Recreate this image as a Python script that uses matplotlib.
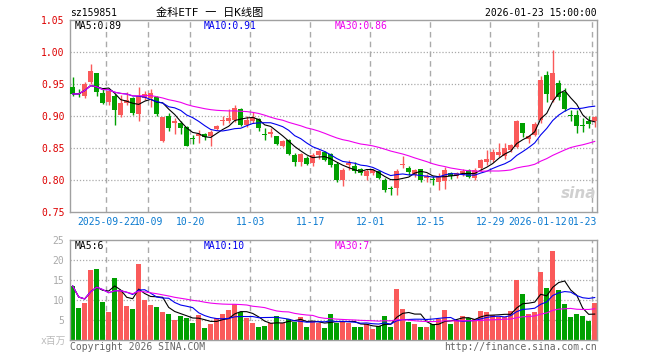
import matplotlib
matplotlib.use("Agg")
import matplotlib.pyplot as plt
import numpy as np
import pandas as pd
from matplotlib.transforms import blended_transform_factory

plt.rcParams['font.family'] = ['DejaVu Sans Mono', 'Noto Sans CJK SC']

# ---------------- data ----------------
opens = [0.946, 0.936, 0.932, 0.953, 0.968, 0.937, 0.923, 0.931, 0.902, 0.920,
         0.928, 0.904, 0.928, 0.929, 0.930, 0.861, 0.900, 0.889, 0.889, 0.883,
         0.865, 0.870, 0.872, 0.870, 0.880, 0.893, 0.892, 0.894, 0.911, 0.887,
         0.892, 0.896, 0.872, 0.872, 0.869, 0.854, 0.863, 0.840, 0.829, 0.835,
         0.827, 0.840, 0.845, 0.841, 0.826, 0.801, 0.824, 0.822, 0.817, 0.807,
         0.812, 0.814, 0.801, 0.787, 0.788, 0.824, 0.820, 0.808, 0.817, 0.803,
         0.801, 0.798, 0.799, 0.811, 0.807, 0.808, 0.816, 0.803, 0.820, 0.829,
         0.832, 0.840, 0.838, 0.848, 0.852, 0.889, 0.864, 0.871, 0.894, 0.964,
         0.925, 0.952, 0.938, 0.901, 0.902, 0.886, 0.892, 0.892]
highs = [0.962, 0.943, 0.954, 0.982, 0.968, 0.944, 0.940, 0.935, 0.933, 0.938,
         0.930, 0.946, 0.940, 0.942, 0.932, 0.899, 0.905, 0.897, 0.893, 0.885,
         0.871, 0.878, 0.874, 0.878, 0.887, 0.900, 0.912, 0.918, 0.913, 0.900,
         0.907, 0.898, 0.881, 0.881, 0.870, 0.863, 0.864, 0.842, 0.842, 0.838,
         0.842, 0.848, 0.846, 0.843, 0.828, 0.820, 0.832, 0.828, 0.820, 0.817,
         0.818, 0.816, 0.803, 0.791, 0.818, 0.838, 0.823, 0.818, 0.818, 0.810,
         0.806, 0.811, 0.821, 0.813, 0.813, 0.817, 0.818, 0.819, 0.834, 0.847,
         0.849, 0.858, 0.859, 0.857, 0.895, 0.890, 0.871, 0.891, 0.963, 0.971,
         1.004, 0.956, 0.944, 0.910, 0.910, 0.897, 0.900, 0.900]
lows = [0.931, 0.930, 0.928, 0.950, 0.932, 0.919, 0.917, 0.887, 0.899, 0.918,
        0.902, 0.892, 0.925, 0.915, 0.900, 0.860, 0.877, 0.873, 0.873, 0.853,
        0.857, 0.859, 0.863, 0.853, 0.878, 0.887, 0.890, 0.891, 0.885, 0.883,
        0.889, 0.877, 0.863, 0.867, 0.855, 0.852, 0.840, 0.823, 0.823, 0.824,
        0.823, 0.833, 0.830, 0.821, 0.798, 0.791, 0.816, 0.812, 0.808, 0.800,
        0.808, 0.802, 0.782, 0.777, 0.777, 0.819, 0.808, 0.805, 0.798, 0.798,
        0.793, 0.785, 0.787, 0.802, 0.803, 0.806, 0.803, 0.801, 0.815, 0.824,
        0.828, 0.837, 0.834, 0.845, 0.850, 0.868, 0.859, 0.869, 0.890, 0.923,
        0.922, 0.925, 0.908, 0.892, 0.874, 0.876, 0.881, 0.883]
closes = [0.935, 0.935, 0.951, 0.971, 0.938, 0.921, 0.940, 0.910, 0.921, 0.926,
          0.905, 0.931, 0.935, 0.936, 0.904, 0.899, 0.882, 0.893, 0.881, 0.854,
          0.864, 0.873, 0.868, 0.876, 0.885, 0.895, 0.898, 0.913, 0.887, 0.894,
          0.899, 0.882, 0.871, 0.875, 0.857, 0.862, 0.841, 0.829, 0.841, 0.826,
          0.840, 0.846, 0.832, 0.824, 0.800, 0.816, 0.827, 0.815, 0.811, 0.815,
          0.816, 0.803, 0.785, 0.786, 0.815, 0.826, 0.813, 0.816, 0.800, 0.806,
          0.800, 0.806, 0.816, 0.806, 0.811, 0.815, 0.805, 0.816, 0.832, 0.834,
          0.844, 0.845, 0.850, 0.855, 0.893, 0.874, 0.869, 0.888, 0.957, 0.935,
          0.968, 0.930, 0.911, 0.900, 0.885, 0.885, 0.888, 0.899]
volumes = [13.5, 8.0, 9.3, 17.5, 17.75, 9.6, 7.1, 15.6, 12.5, 8.6,
           7.8, 19.1, 10.1, 8.8, 8.25, 7.1, 6.5, 5.0, 6.1, 5.6,
           4.3, 6.25, 3.1, 4.0, 5.6, 6.5, 7.6, 8.9, 6.9, 5.5,
           4.3, 3.3, 3.6, 4.2, 6.0, 4.2, 5.25, 4.6, 5.75, 3.3,
           4.75, 4.3, 3.1, 6.5, 4.3, 4.8, 4.3, 3.3, 3.3, 4.0,
           2.8, 3.5, 6.0, 3.3, 12.75, 7.75, 4.6, 4.0, 3.3, 3.3,
           3.9, 5.2, 7.5, 4.0, 5.0, 6.0, 5.4, 5.2, 7.25, 7.0,
           6.25, 5.8, 5.8, 7.25, 15.0, 11.5, 6.5, 7.1, 17.1, 12.9,
           22.25, 12.5, 9.0, 5.8, 6.5, 6.0, 4.8, 9.3]

date_tick_idx = [6, 13, 20, 30, 40, 50, 60, 70, 78, 87]
date_tick_labels = ["2025-09-22", "10-09", "10-20", "11-03", "11-17", "12-01",
                    "12-15", "12-29", "2026-01-12", "01-23"]
price_ticks = [0.75, 0.80, 0.85, 0.90, 0.95, 1.00, 1.05]
vol_ticks = [5, 10, 15, 20, 25]

symbol = "sz159851"
title = "金科ETF 一 日K线图"
timestamp = "2026-01-23 15:00:00"
ma_label_main = ["MA5:0.89", "MA10:0.91", "MA30:0.86"]
ma_label_vol = ["MA5:6", "MA10:10", "MA30:7"]

# ---------------- styles ----------------
RED = '#fa5a5a'
GREEN = '#00a000'
MA_COLORS = ['#000000', '#0000ee', '#ee00ee']
GRID = '#aaaaaa'
FRAME = '#a0a0a0'

n = len(closes)
x = np.arange(n)
o = np.array(opens); h = np.array(highs); l = np.array(lows); c = np.array(closes)
v = np.array(volumes)
up = c >= o
colors = np.where(up, RED, GREEN)

cs = pd.Series(c)
vs = pd.Series(v)
ma_p = [cs.rolling(w, min_periods=1).mean() for w in (5, 10, 30)]
ma_v = [vs.rolling(w, min_periods=1).mean() for w in (5, 10, 30)]

fig = plt.figure(figsize=(6.6, 3.6), dpi=100)
W, H = 660.0, 360.0
left, right = 70.0, 597.0
ax = fig.add_axes([left / W, 1 - 212.3 / H, (right - left) / W, 192.0 / H])
axv = fig.add_axes([left / W, 1 - 340.0 / H, (right - left) / W, 100.0 / H])

xlim = (-0.45, n - 1 + 0.38)
grid_x = [i - 0.38 for i in date_tick_idx]

for a in (ax, axv):
    a.set_xlim(*xlim)
    a.set_xticks([])
    for s in a.spines.values():
        s.set_color(FRAME)
        s.set_linewidth(1.0)
    for gx in grid_x:
        a.axvline(gx, color=GRID, lw=1.0, ls=(0, (4, 3)), zorder=0)

# main panel
ax.set_ylim(price_ticks[0], price_ticks[-1])
ax.set_yticks(price_ticks)
ax.set_yticklabels(["%.2f" % p for p in price_ticks])
ax.tick_params(axis='y', length=0, pad=4, labelcolor='#dd0000', labelsize=7)
for p in price_ticks[1:-1]:
    ax.axhline(p, color=GRID, lw=0.9, ls=(0, (1, 1.5)), zorder=0)

body_w = 0.8
bottoms = np.minimum(o, c)
heights = np.maximum(np.abs(c - o), 0.0016)
ax.vlines(x, l, h, colors=colors, lw=1.0, zorder=2)
ax.bar(x, heights, bottom=bottoms, width=body_w, color=colors, zorder=3, linewidth=0)
for m, col in zip(ma_p, MA_COLORS):
    ax.plot(x, m, color=col, lw=0.8, zorder=4)

# volume panel
axv.set_ylim(0, vol_ticks[-1])
axv.set_yticks(vol_ticks)
axv.set_yticklabels([str(t) for t in vol_ticks])
axv.tick_params(axis='y', length=0, pad=4, labelcolor='#aaaaaa', labelsize=7)
for t in vol_ticks[:-1]:
    axv.axhline(t, color=GRID, lw=0.9, ls=(0, (1, 1.5)), zorder=0)
axv.bar(x, v, width=0.78, color=colors, zorder=2, linewidth=0)
for m, col in zip(ma_v, MA_COLORS):
    axv.plot(x, m, color=col, lw=0.8, zorder=3)

# date labels under main panel
tr = blended_transform_factory(ax.transData, fig.transFigure)
yd = 1 - 222.0 / H
for gx, lab in zip(grid_x[:-2], date_tick_labels[:-2]):
    fig.text(gx, yd, lab, transform=tr, ha='center', va='center',
             color='#0a7ad0', fontsize=7)
# last two labels sit close together at the right edge
fig.text(567.0 / W, yd, date_tick_labels[-2], ha='right', va='center',
         color='#0a7ad0', fontsize=7)
fig.text(right / W, yd, date_tick_labels[-1], ha='right', va='center',
         color='#0a7ad0', fontsize=7)

# header
fig.text(left / W, 1 - 13.0 / H, symbol, ha='left', va='center', fontsize=7, color='#000000')
fig.text(210.0 / W, 1 - 13.0 / H, title, ha='center', va='center', fontsize=8, color='#000000')
fig.text(right / W, 1 - 13.0 / H, timestamp, ha='right', va='center', fontsize=7, color='#000000')

# MA legends
leg_x = [75.0, 204.0, 335.0]
for lx, lab, col in zip(leg_x, ma_label_main, MA_COLORS):
    fig.text(lx / W, 1 - 26.0 / H, lab, ha='left', va='center', fontsize=7, color=col)
for lx, lab, col in zip(leg_x, ma_label_vol, MA_COLORS):
    fig.text(lx / W, 1 - 246.0 / H, lab, ha='left', va='center', fontsize=7, color=col)

# footer
fig.text(66.0 / W, 1 - 341.0 / H, "x百万", ha='right', va='center', fontsize=7, color='#bbbbbb')
fig.text(left / W, 1 - 346.5 / H, "Copyright 2026 SINA.COM", ha='left', va='center',
         fontsize=7, color='#666666')
fig.text(right / W, 1 - 346.5 / H, "http://finance.sina.com.cn", ha='right', va='center',
         fontsize=7, color='#666666')

# watermark
fig.text(596.0 / W, 1 - 194.0 / H, "sina", ha='right', va='center', fontsize=11,
         fontweight='bold', fontstyle='italic', color='#d0d0d0',
         family=['DejaVu Sans'], zorder=1)

fig.savefig("out.png", dpi=100, facecolor='white')
